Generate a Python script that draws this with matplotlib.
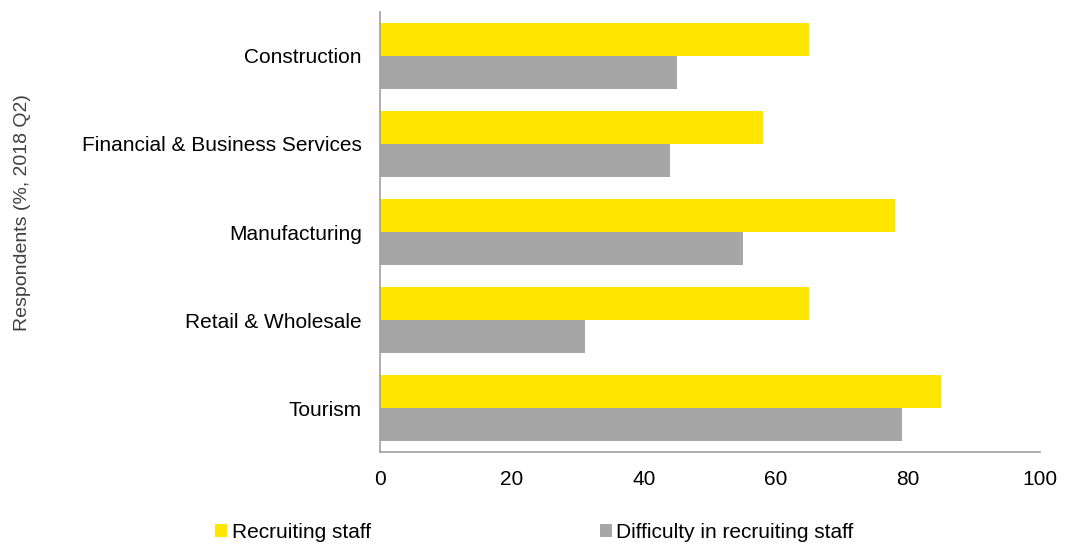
import matplotlib.pyplot as plt
import numpy as np

categories = ['Construction', 'Financial & Business Services', 'Manufacturing',
              'Retail & Wholesale', 'Tourism']
recruiting = [65, 58, 78, 65, 85]
difficulty = [45, 44, 55, 31, 79]


def main():
    plt.rcParams['font.family'] = ['Liberation Sans', 'DejaVu Sans']
    fig = plt.figure(figsize=(10.69, 5.45), dpi=100)
    ax = fig.add_axes([0.3555, 0.1706, 0.6175, 0.8074])

    y = np.arange(len(categories))
    h = 0.375
    ax.barh(y - h / 2, recruiting, height=h, color='#FFE600', label='Recruiting staff')
    ax.barh(y + h / 2, difficulty, height=h, color='#A6A6A6',
            label='Difficulty in recruiting staff')

    ax.set_ylim(len(categories) - 0.5, -0.5)
    ax.set_xlim(0, 100)
    ax.set_xticks([0, 20, 40, 60, 80, 100])
    ax.set_yticks(y)
    ax.set_yticklabels(categories)
    ax.tick_params(axis='both', length=0, labelsize=15)
    ax.tick_params(axis='x', pad=13)
    ax.tick_params(axis='y', pad=13)

    for s in ['top', 'right']:
        ax.spines[s].set_visible(False)
    for s in ['left', 'bottom']:
        ax.spines[s].set_color('#A0A0A0')
        ax.spines[s].set_linewidth(1.2)

    fig.text(0.021, 0.61, 'Respondents (%, 2018 Q2)', rotation=90,
             ha='center', va='center', fontsize=14, color='#404040')

    handles, labels = ax.get_legend_handles_labels()
    fig.legend(handles[:1], labels[:1], loc='center left', bbox_to_anchor=(0.201, 0.023),
               frameon=False, fontsize=15, handlelength=0.6, handleheight=0.6,
               handletextpad=0.2, borderaxespad=0, borderpad=0)
    fig.legend(handles[1:], labels[1:], loc='center left', bbox_to_anchor=(0.561, 0.023),
               frameon=False, fontsize=15, handlelength=0.6, handleheight=0.6,
               handletextpad=0.2, borderaxespad=0, borderpad=0)

    fig.savefig('out.png', dpi=100)


if __name__ == "__main__":
    main()
